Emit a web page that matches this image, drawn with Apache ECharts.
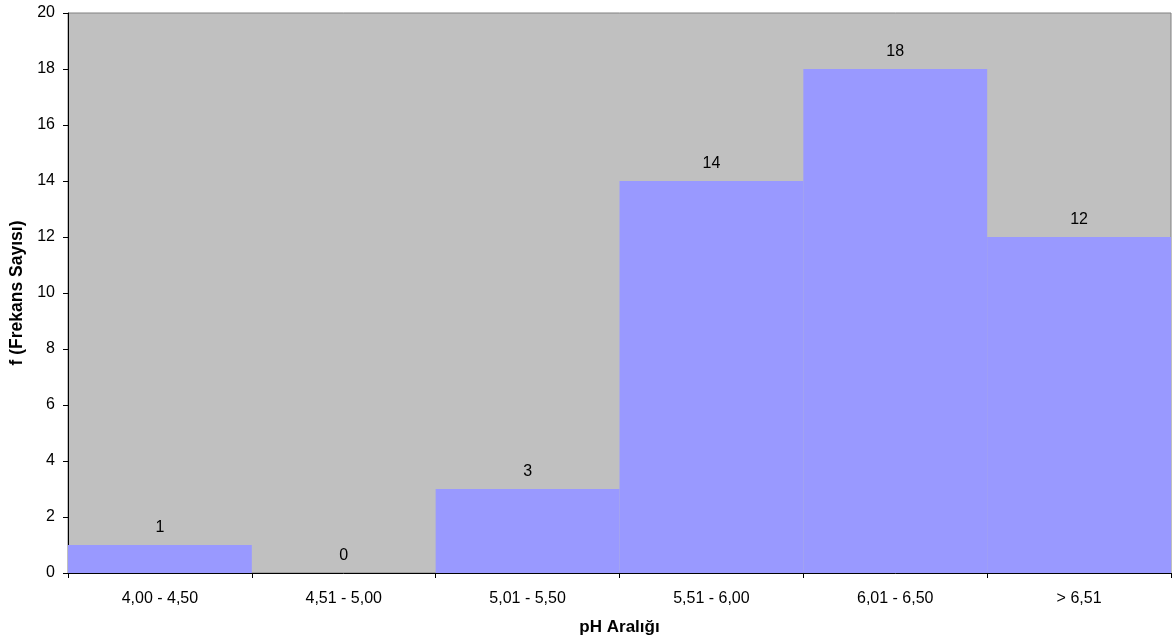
<!DOCTYPE html>
<html><head><meta charset="utf-8">
<script src="https://cdn.jsdelivr.net/npm/echarts@6/dist/echarts.min.js"></script>
<style>html,body{margin:0;padding:0;background:#fff}#c{width:1172px;height:643px}</style>
</head><body><div id="c"></div>
<script>
const categories = ['4,00 - 4,50','4,51 - 5,00','5,01 - 5,50','5,51 - 6,00','6,01 - 6,50','> 6,51'];
const frequencies = [1, 0, 3, 14, 18, 12];
const yTicks = {min: 0, max: 20, interval: 2};
const xTitle = 'pH Aralığı';
const yTitle = 'f (Frekans Sayısı)';

const font = 'Liberation Sans, Arial, sans-serif';
const chart = echarts.init(document.getElementById('c'), null, {renderer: 'canvas'});
chart.setOption({
  animation: false,
  grid: {left: 68, top: 13, right: 1, bottom: 70, containLabel: false, outerBoundsMode: 'none',
         show: true, backgroundColor: '#C0C0C0', borderColor: '#808080', borderWidth: 1},
  xAxis: {
    type: 'category', data: categories,
    name: xTitle, nameLocation: 'middle', nameGap: 46,
    nameTextStyle: {fontFamily: font, fontSize: 17, fontWeight: 'bold', color: '#000'},
    axisLine: {lineStyle: {color: '#000', width: 1}},
    axisTick: {show: true, alignWithLabel: false, length: 5, lineStyle: {color: '#000'}},
    axisLabel: {fontFamily: font, fontSize: 16, color: '#000', margin: 18},
    splitLine: {show: false}
  },
  yAxis: {
    type: 'value', min: yTicks.min, max: yTicks.max, interval: yTicks.interval,
    name: yTitle, nameLocation: 'middle', nameGap: 40, nameRotate: 90,
    nameTextStyle: {fontFamily: font, fontSize: 17.5, fontWeight: 'bold', color: '#000'},
    axisLine: {show: true, lineStyle: {color: '#000', width: 1}},
    axisTick: {show: true, length: 5, lineStyle: {color: '#000'}},
    axisLabel: {fontFamily: font, fontSize: 16, color: '#000', margin: 13},
    splitLine: {show: false}
  },
  series: [{
    type: 'bar', data: frequencies, barCategoryGap: 0, barGap: 0,
    itemStyle: {color: '#9999FF'},
    label: {show: true, position: 'top', distance: 9, fontFamily: font, fontSize: 16, color: '#000'}
  }]
});
</script></body></html>
